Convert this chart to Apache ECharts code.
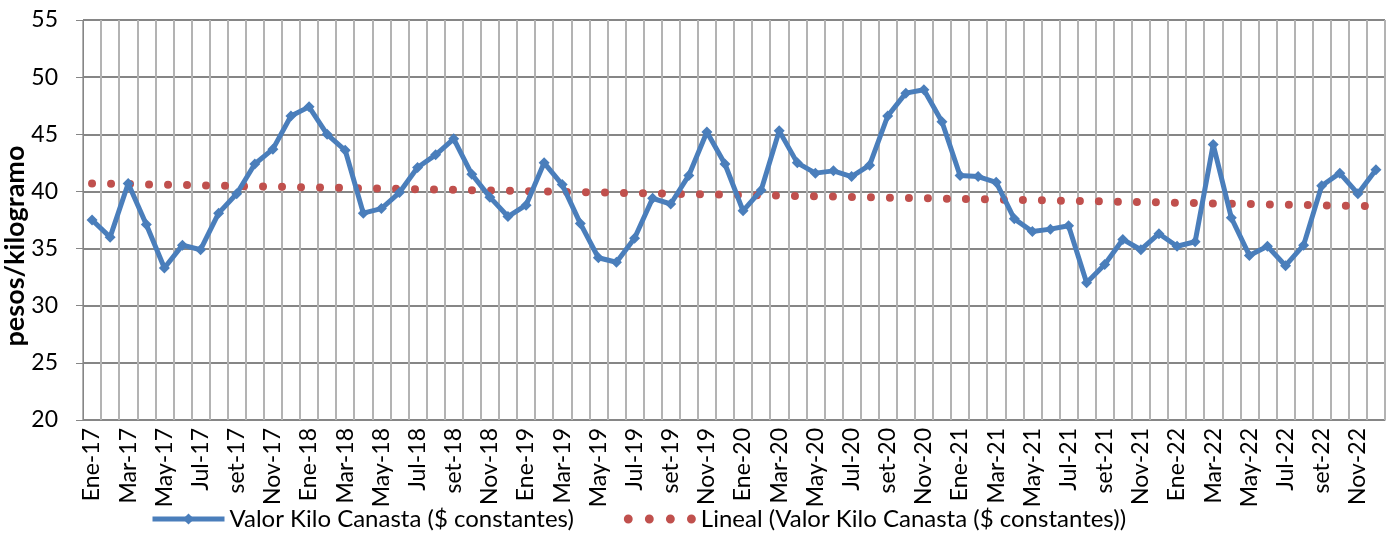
<!DOCTYPE html>
<html>
<head>
<meta charset="utf-8">
<script src="https://cdn.jsdelivr.net/npm/echarts@6/dist/echarts.min.js"></script>
<style>
  html, body { margin: 0; padding: 0; background: #fff; }
  #chart { width: 1396px; height: 538px; }
</style>
</head>
<body>
<div id="chart"></div>
<script>
// meses Ene-17 .. Dic-22
var meses = ['Ene','Feb','Mar','Abr','May','Jun','Jul','Ago','set','Oct','Nov','Dic'];
var anios = ['17','18','19','20','21','22'];
var categorias = [];
anios.forEach(function (a) {
    meses.forEach(function (m) { categorias.push(m + '-' + a); });
});

// valor kilo canasta ($ constantes)
var valorKilo = [
    37.5, 36.0, 40.7, 37.1, 33.3, 35.3, 34.9, 38.1, 39.8, 42.4, 43.7, 46.6,
    47.4, 45.0, 43.6, 38.1, 38.5, 39.9, 42.1, 43.2, 44.6, 41.5, 39.5, 37.8,
    38.8, 42.5, 40.6, 37.2, 34.2, 33.8, 35.9, 39.4, 38.9, 41.4, 45.2, 42.4,
    38.3, 40.1, 45.3, 42.5, 41.6, 41.8, 41.3, 42.3, 46.6, 48.6, 48.9, 46.1,
    41.4, 41.3, 40.8, 37.6, 36.5, 36.7, 37.0, 32.0, 33.6, 35.8, 34.9, 36.3,
    35.2, 35.6, 44.1, 37.7, 34.4, 35.2, 33.5, 35.3, 40.5, 41.6, 39.8, 41.9
];

// tendencia lineal: valores en el primer y ultimo mes
var tendencia = [40.7, 38.7];

var yTicks = [20, 55, 5]; // min, max, intervalo

var serieNombre = 'Valor Kilo Canasta ($ constantes)';
var tendNombre = 'Lineal (Valor Kilo Canasta ($ constantes))';

// icono de leyenda: cuatro puntos
var iconoPuntos = 'path://M0,4a4,4 0 1,0 8,0a4,4 0 1,0 -8,0z' +
    'M19,4a4,4 0 1,0 8,0a4,4 0 1,0 -8,0z' +
    'M38,4a4,4 0 1,0 8,0a4,4 0 1,0 -8,0z' +
    'M57,4a4,4 0 1,0 8,0a4,4 0 1,0 -8,0z';

var myChart = echarts.init(document.getElementById('chart'));

myChart.setOption({
    animation: false,
    textStyle: { fontFamily: 'Lato' },
    grid: { left: 83, right: 11, top: 20, bottom: 118, outerBoundsMode: 'none', containLabel: false },
    legend: {
        bottom: 2,
        left: 145,
        itemGap: 50,
        itemWidth: 72,
        itemHeight: 14,
        textStyle: { fontSize: 24, color: '#000', fontFamily: 'Lato' },
        data: [
            { name: serieNombre, lineStyle: { width: 5 } },
            { name: tendNombre, icon: iconoPuntos }
        ]
    },
    xAxis: {
        type: 'category',
        data: categorias,
        boundaryGap: true,
        axisLine: { lineStyle: { color: '#868686', width: 1 } },
        axisTick: { interval: 1, length: 6, lineStyle: { color: '#868686' } },
        axisLabel: { interval: 1, rotate: 90, fontSize: 23, color: '#000', margin: 8 },
        splitLine: { show: true, interval: 0, lineStyle: { color: '#b3b3b3', width: 2 } }
    },
    yAxis: {
        type: 'value',
        min: yTicks[0],
        max: yTicks[1],
        interval: yTicks[2],
        name: 'pesos/kilogramo',
        nameLocation: 'middle',
        nameGap: 54,
        nameMoveOverlap: false,
        nameTextStyle: { fontSize: 27, fontWeight: 'bold', color: '#000', padding: [0, 52, 0, 0] },
        axisLine: { show: true, lineStyle: { color: '#868686' } },
        axisTick: { show: true, length: 7, lineStyle: { color: '#868686' } },
        axisLabel: { fontSize: 23, color: '#000', margin: 25 },
        splitLine: { lineStyle: { color: '#868686', width: 2 } }
    },
    series: [
        {
            name: serieNombre,
            type: 'line',
            data: valorKilo,
            symbol: 'diamond',
            symbolSize: 11,
            color: '#4a7ebb',
            lineStyle: { width: 5, color: '#4a7ebb' },
            itemStyle: { color: '#4a7ebb' },
            z: 3
        },
        {
            name: tendNombre,
            type: 'line',
            data: [[0, tendencia[0]], [categorias.length - 1, tendencia[1]]],
            symbol: 'none',
            color: '#c0504d',
            lineStyle: { width: 8, color: '#c0504d', type: [0, 19], cap: 'round' },
            z: 2
        }
    ]
});
</script>
</body>
</html>
